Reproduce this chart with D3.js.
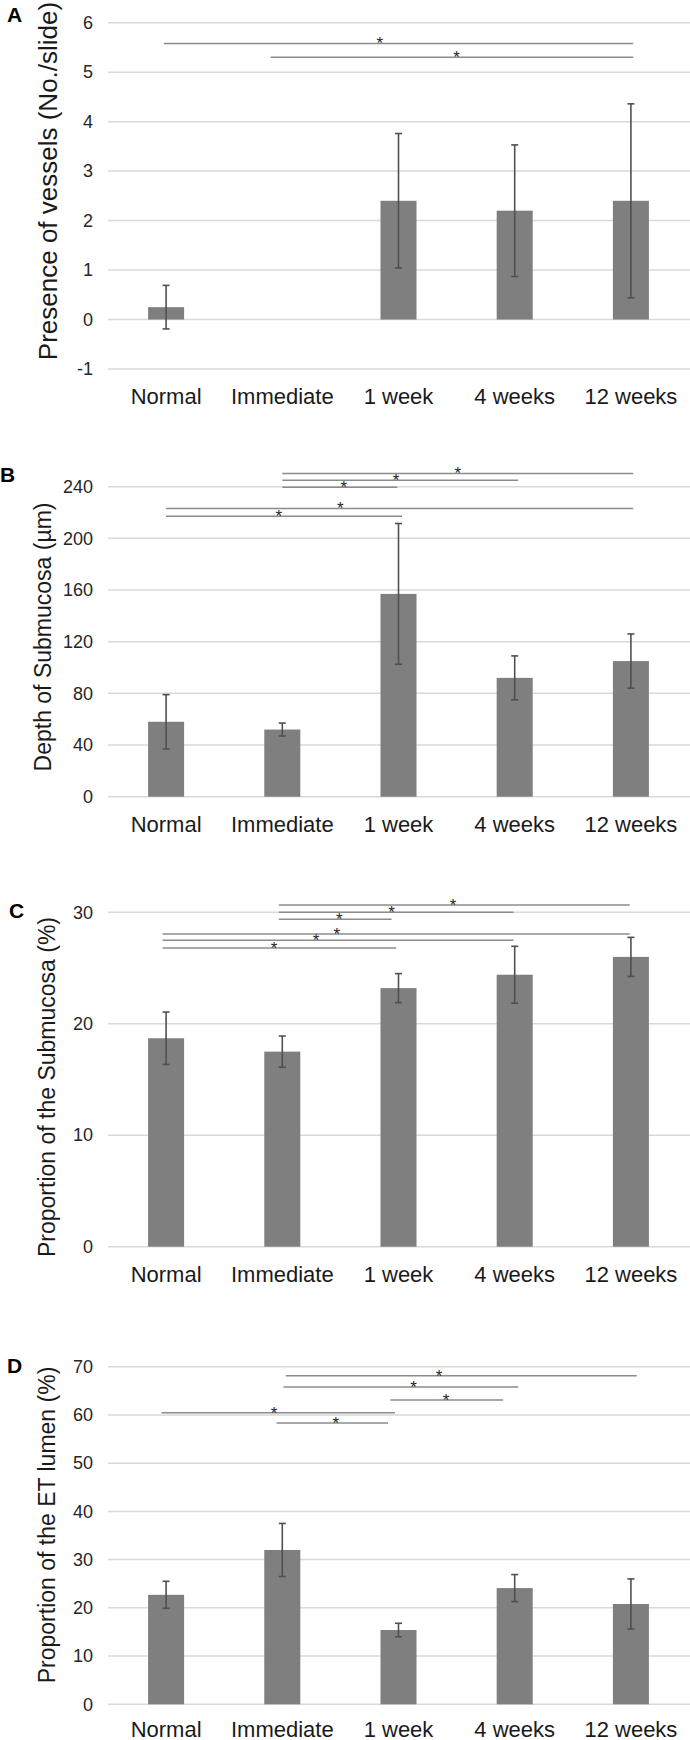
<!DOCTYPE html>
<html>
<head>
<meta charset="utf-8">
<script src="https://cdn.jsdelivr.net/npm/d3@7"></script>
<style>
  html, body { margin: 0; padding: 0; background: #fff; }
  svg { display: block; font-family: "Liberation Sans", Arial, sans-serif; }
</style>
</head>
<body>
<svg id="chart" width="690" height="1740"></svg>
<script>
// ---------------- DATA ----------------
const categories = ["Normal", "Immediate", "1 week", "4 weeks", "12 weeks"];

// Panel A: presence of vessels
const vesselsMean = [0.25, 0, 2.4, 2.2, 2.4];
const vesselsErr  = [0.44, null, 1.36, 1.33, 1.96];
const vesselsTicks = [-1, 0, 1, 2, 3, 4, 5, 6];
// [from index, to index, y value, star position index]
const vesselsSig = [
  [-0.02, 4.02, 5.58, 1.84],
  [0.90, 4.02, 5.30, 2.50]
];

// Panel B: depth of submucosa
const depthMean = [58, 52, 157, 92, 105];
const depthErr  = [21, 5, 54.5, 17, 21];
const depthTicks = [0, 40, 80, 120, 160, 200, 240];
const depthSig = [
  [1.00, 4.02, 250.3, 2.51],
  [1.00, 3.03, 244.9, 1.98],
  [1.00, 1.99, 239.5, 1.53],
  [0.00, 4.02, 223.2, 1.50],
  [0.00, 2.03, 217.2, 0.97]
];

// Panel C: proportion of the submucosa
const subPropMean = [18.7, 17.5, 23.2, 24.4, 26.0];
const subPropErr  = [2.35, 1.4, 1.3, 2.55, 1.75];
const subPropTicks = [0, 10, 20, 30];
const subPropSig = [
  [0.97, 3.99, 30.66, 2.47],
  [0.97, 2.99, 30.00, 1.94],
  [0.97, 1.94, 29.37, 1.49],
  [-0.03, 3.99, 28.06, 1.47],
  [-0.03, 2.99, 27.49, 1.29],
  [-0.03, 1.98, 26.80, 0.93]
];

// Panel D: proportion of the ET lumen
const lumenMean = [22.7, 32.0, 15.4, 24.1, 20.8];
const lumenErr  = [2.8, 5.5, 1.4, 2.8, 5.2];
const lumenTicks = [0, 10, 20, 30, 40, 50, 60, 70];
const lumenSig = [
  [1.03, 4.05, 68.14, 2.35],
  [1.01, 3.03, 65.79, 2.13],
  [1.93, 2.90, 63.10, 2.41],
  [-0.04, 1.97, 60.47, 0.93],
  [0.95, 1.91, 58.33, 1.46]
];

// ---------------- LAYOUT ----------------
const panels = [
  { letter: "A", lx: 7, ly: 22, title: "Presence of vessels (No./slide)", titleSize: 26, titleX: 57, titleY: 181,
    mean: vesselsMean, err: vesselsErr, ticks: vesselsTicks, sig: vesselsSig,
    domain: [-1, 6], range: [369, 22.7], labelOff: 35 },
  { letter: "B", lx: 0, ly: 482, title: "Depth of Submucosa (\u00b5m)", titleSize: 23, titleX: 51, titleY: 637,
    mean: depthMean, err: depthErr, ticks: depthTicks, sig: depthSig,
    domain: [0, 240], range: [796.7, 486.7], labelOff: 35 },
  { letter: "C", lx: 9, ly: 918, title: "Proportion of the Submucosa (%)", titleSize: 23, titleX: 55, titleY: 1087,
    mean: subPropMean, err: subPropErr, ticks: subPropTicks, sig: subPropSig,
    domain: [0, 30], range: [1246.7, 912.3], labelOff: 35 },
  { letter: "D", lx: 7, ly: 1373, title: "Proportion of the ET lumen (%)", titleSize: 23, titleX: 55, titleY: 1525,
    mean: lumenMean, err: lumenErr, ticks: lumenTicks, sig: lumenSig,
    domain: [0, 70], range: [1704.3, 1366.7], labelOff: 33 }
];

const svg = d3.select("#chart");
svg.append("rect").attr("width", 690).attr("height", 1740).attr("fill", "#fff");

const x = d3.scaleBand().domain(categories).range([108, 689]).paddingInner(0).paddingOuter(0);
const pos = i => x.range()[0] + (i + 0.5) * x.step();
const barW = x.step() * 0.31;
const plotLeft = 108, plotRight = 690;

panels.forEach(p => {
  const y = d3.scaleLinear().domain(p.domain).range(p.range);
  const g = svg.append("g");

  // gridlines
  g.selectAll("line.grid").data(p.ticks).join("line")
    .attr("x1", plotLeft).attr("x2", plotRight)
    .attr("y1", d => y(d)).attr("y2", d => y(d))
    .attr("stroke", "#d9d9d9").attr("stroke-width", 1.5);

  // y tick labels via axis
  const axis = d3.axisLeft(y).tickValues(p.ticks).tickSize(0).tickPadding(0).tickFormat(d => String(d));
  const ag = g.append("g").attr("transform", `translate(93,0)`).call(axis);
  ag.select(".domain").remove();
  ag.selectAll("text").attr("font-size", 18).attr("fill", "#262626")
    .attr("font-family", "'Liberation Sans', Arial, sans-serif");

  // bars
  g.selectAll("rect.bar").data(p.mean.map((v, i) => ({ v, i }))).join("rect")
    .attr("x", d => pos(d.i) - barW / 2)
    .attr("width", barW)
    .attr("y", d => y(Math.max(0, d.v)))
    .attr("height", d => Math.abs(y(d.v) - y(0)))
    .attr("fill", "#7f7f7f");

  // error bars
  const errs = p.mean.map((v, i) => ({ v, e: p.err[i], i })).filter(d => d.e != null);
  const eg = g.selectAll("g.err").data(errs).join("g").attr("stroke", "#505050").attr("stroke-width", 1.6);
  eg.append("line").attr("x1", d => pos(d.i)).attr("x2", d => pos(d.i))
    .attr("y1", d => y(d.v + d.e)).attr("y2", d => y(d.v - d.e));
  eg.append("line").attr("x1", d => pos(d.i) - 3.5).attr("x2", d => pos(d.i) + 3.5)
    .attr("y1", d => y(d.v + d.e)).attr("y2", d => y(d.v + d.e));
  eg.append("line").attr("x1", d => pos(d.i) - 3.5).attr("x2", d => pos(d.i) + 3.5)
    .attr("y1", d => y(d.v - d.e)).attr("y2", d => y(d.v - d.e));

  // significance lines
  g.selectAll("line.sig").data(p.sig).join("line")
    .attr("x1", d => pos(d[0])).attr("x2", d => pos(d[1]))
    .attr("y1", d => y(d[2])).attr("y2", d => y(d[2]))
    .attr("stroke", "#8c8c8c").attr("stroke-width", 1.5);
  g.selectAll("text.star").data(p.sig).join("text")
    .attr("x", d => pos(d[3])).attr("y", d => y(d[2]) + 6)
    .attr("text-anchor", "middle").attr("font-size", 17).attr("fill", "#262626")
    .text("*");

  // category labels
  g.selectAll("text.cat").data(categories).join("text")
    .attr("x", d => x(d) + x.bandwidth() / 2)
    .attr("y", y(p.domain[0]) + p.labelOff)
    .attr("text-anchor", "middle").attr("font-size", 22).attr("fill", "#1a1a1a")
    .text(d => d);

  // y title
  g.append("text")
    .attr("transform", `translate(${p.titleX},${p.titleY}) rotate(-90)`)
    .attr("text-anchor", "middle").attr("font-size", p.titleSize).attr("fill", "#1a1a1a")
    .text(p.title);

  // panel letter
  g.append("text").attr("x", p.lx).attr("y", p.ly)
    .attr("font-size", 21).attr("font-weight", "bold").attr("fill", "#000")
    .text(p.letter);
});
</script>
</body>
</html>
